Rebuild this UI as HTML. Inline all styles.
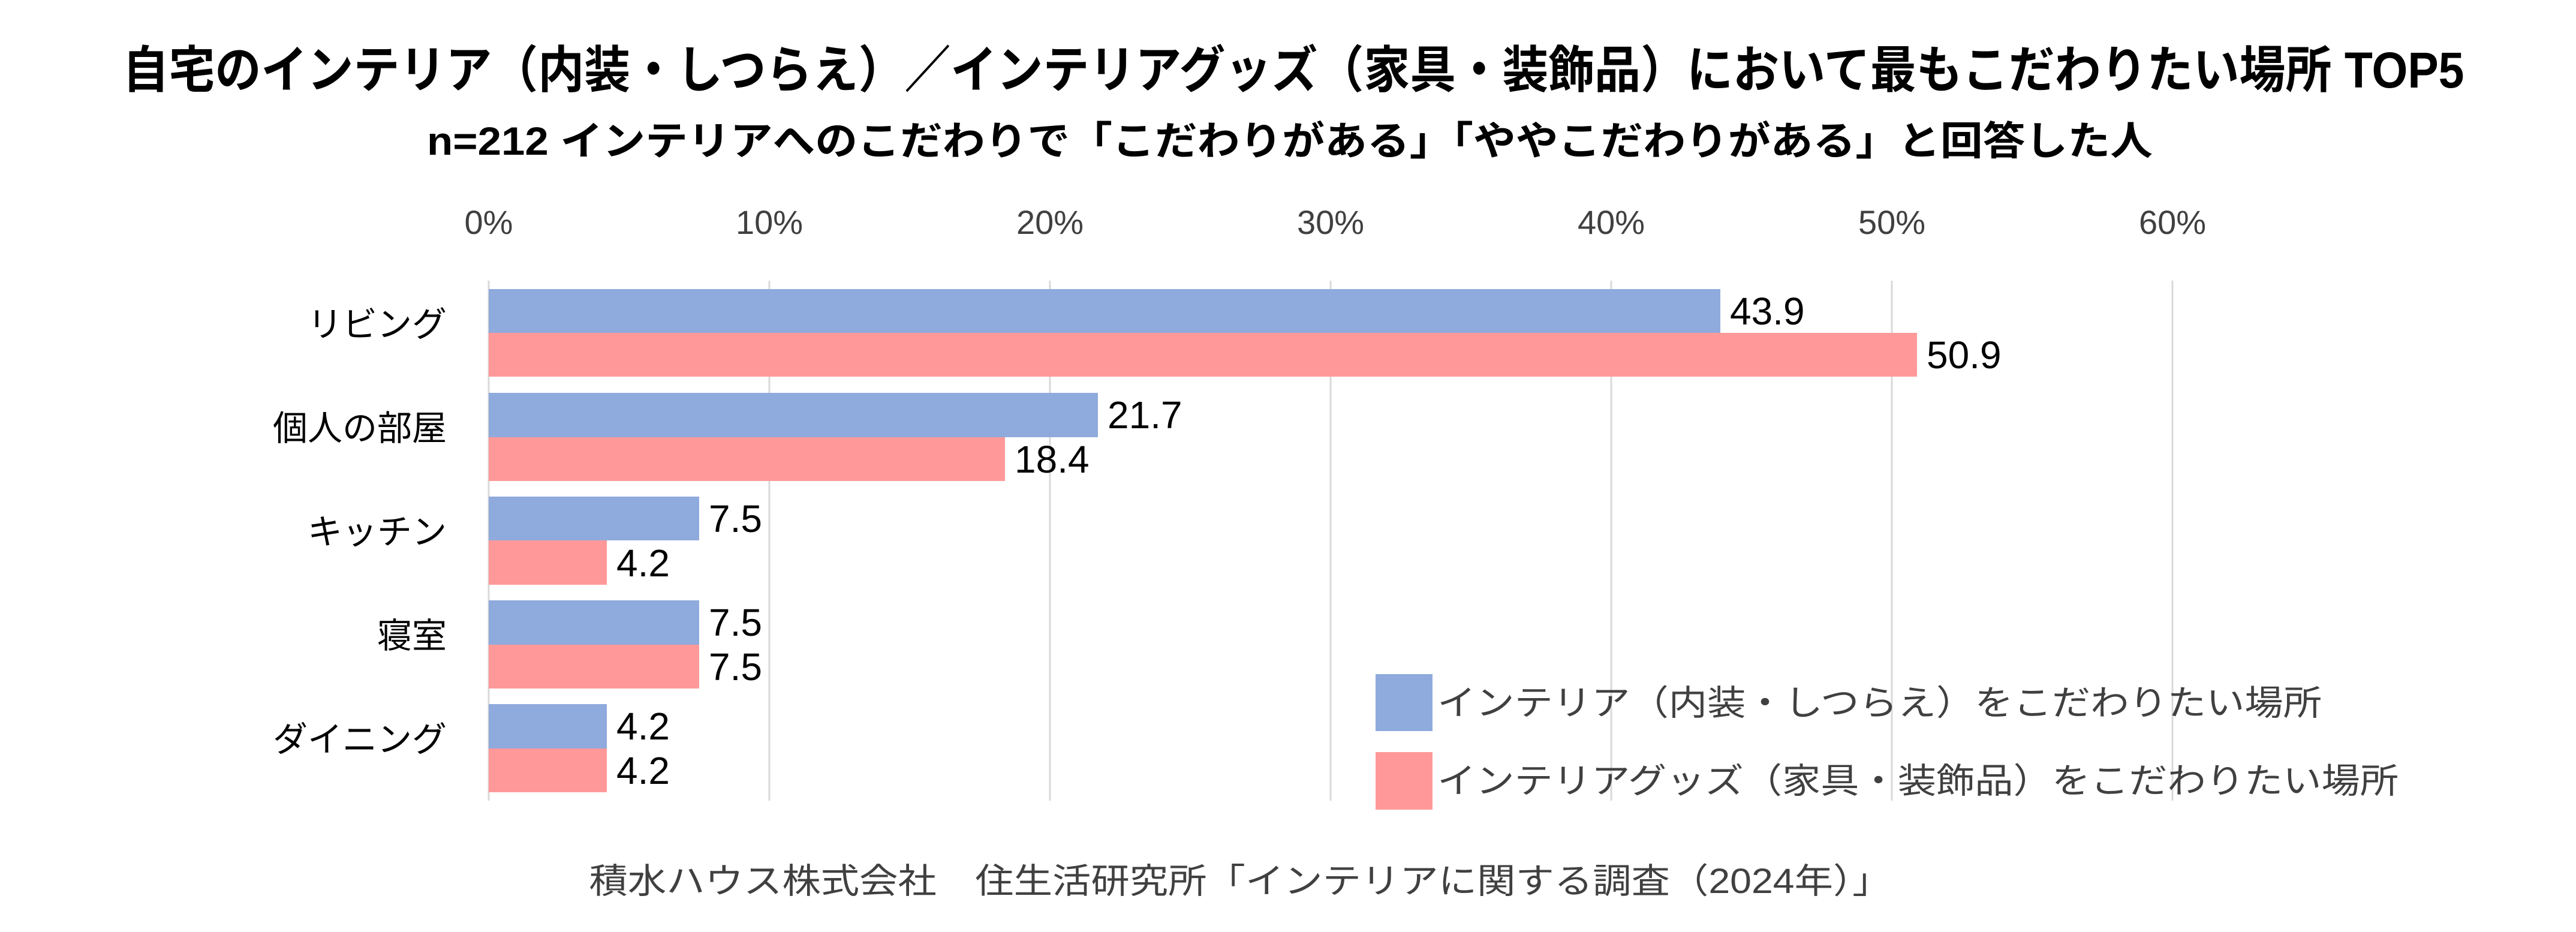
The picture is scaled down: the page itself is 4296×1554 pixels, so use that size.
<!DOCTYPE html>
<html><head><meta charset="utf-8"><style>html,body{margin:0;padding:0;background:#fff}svg{display:block}</style></head>
<body>
<svg width="4296" height="1554" viewBox="0 0 4296 1554" xmlns="http://www.w3.org/2000/svg" font-family="'Liberation Sans','Noto Sans CJK JP',sans-serif">
<rect width="4296" height="1554" fill="#fff"/>
<text x="2157" y="146" font-size="84" font-weight="bold" text-anchor="middle" textLength="3905" lengthAdjust="spacingAndGlyphs" fill="#000">自宅のインテリア（内装・しつらえ）／インテリアグッズ（家具・装飾品）において最もこだわりたい場所 TOP5</text>
<text x="2151" y="258" font-size="66" font-weight="bold" text-anchor="middle" textLength="2878" lengthAdjust="spacingAndGlyphs" fill="#000">n=212 インテリアへのこだわりで「こだわりがある」「ややこだわりがある」と回答した人</text>
<g font-size="56" fill="#404040" text-anchor="middle">
<text x="815" y="390">0%</text><text x="1283" y="390">10%</text><text x="1751" y="390">20%</text><text x="2219" y="390">30%</text><text x="2687" y="390">40%</text><text x="3155" y="390">50%</text><text x="3623" y="390">60%</text>
</g>
<g stroke="#d9d9d9" stroke-width="3">
<line x1="815" y1="468" x2="815" y2="1335"/><line x1="1283" y1="468" x2="1283" y2="1335"/><line x1="1751" y1="468" x2="1751" y2="1335"/><line x1="2219" y1="468" x2="2219" y2="1335"/><line x1="2687" y1="468" x2="2687" y2="1335"/><line x1="3155" y1="468" x2="3155" y2="1335"/><line x1="3623" y1="468" x2="3623" y2="1335"/>
</g>
<g>
<rect x="815" y="482" width="2054" height="73" fill="#8faadc"/><rect x="815" y="555" width="2382" height="73" fill="#ff9999"/>
<rect x="815" y="655" width="1016" height="74" fill="#8faadc"/><rect x="815" y="729" width="861" height="73" fill="#ff9999"/>
<rect x="815" y="828" width="351" height="73" fill="#8faadc"/><rect x="815" y="901" width="197" height="74" fill="#ff9999"/>
<rect x="815" y="1001" width="351" height="74" fill="#8faadc"/><rect x="815" y="1075" width="351" height="73" fill="#ff9999"/>
<rect x="815" y="1174" width="197" height="74" fill="#8faadc"/><rect x="815" y="1248" width="197" height="73" fill="#ff9999"/>
</g>
<g font-size="64" fill="#000">
<text x="2885" y="541">43.9</text><text x="3213" y="614">50.9</text>
<text x="1847" y="714">21.7</text><text x="1692" y="788">18.4</text>
<text x="1182" y="887">7.5</text><text x="1028" y="961">4.2</text>
<text x="1182" y="1060">7.5</text><text x="1182" y="1134">7.5</text>
<text x="1028" y="1233">4.2</text><text x="1028" y="1307">4.2</text>
</g>
<g font-size="58" fill="#000" text-anchor="end">
<text x="745" y="561">リビング</text><text x="745" y="734">個人の部屋</text><text x="745" y="907">キッチン</text><text x="745" y="1080">寝室</text><text x="745" y="1253">ダイニング</text>
</g>
<rect x="2294" y="1124" width="95" height="95" fill="#8faadc"/>
<rect x="2294" y="1254" width="95" height="96" fill="#ff9999"/>
<g font-size="58" fill="#404040">
<text x="2397" y="1192" textLength="1475" lengthAdjust="spacingAndGlyphs">インテリア（内装・しつらえ）をこだわりたい場所</text>
<text x="2397" y="1322" textLength="1603" lengthAdjust="spacingAndGlyphs">インテリアグッズ（家具・装飾品）をこだわりたい場所</text>
</g>
<text x="2068" y="1489" font-size="58" fill="#404040" text-anchor="middle" textLength="2171" lengthAdjust="spacingAndGlyphs">積水ハウス株式会社　住生活研究所「インテリアに関する調査（2024年）」</text>
</svg>
</body></html>
